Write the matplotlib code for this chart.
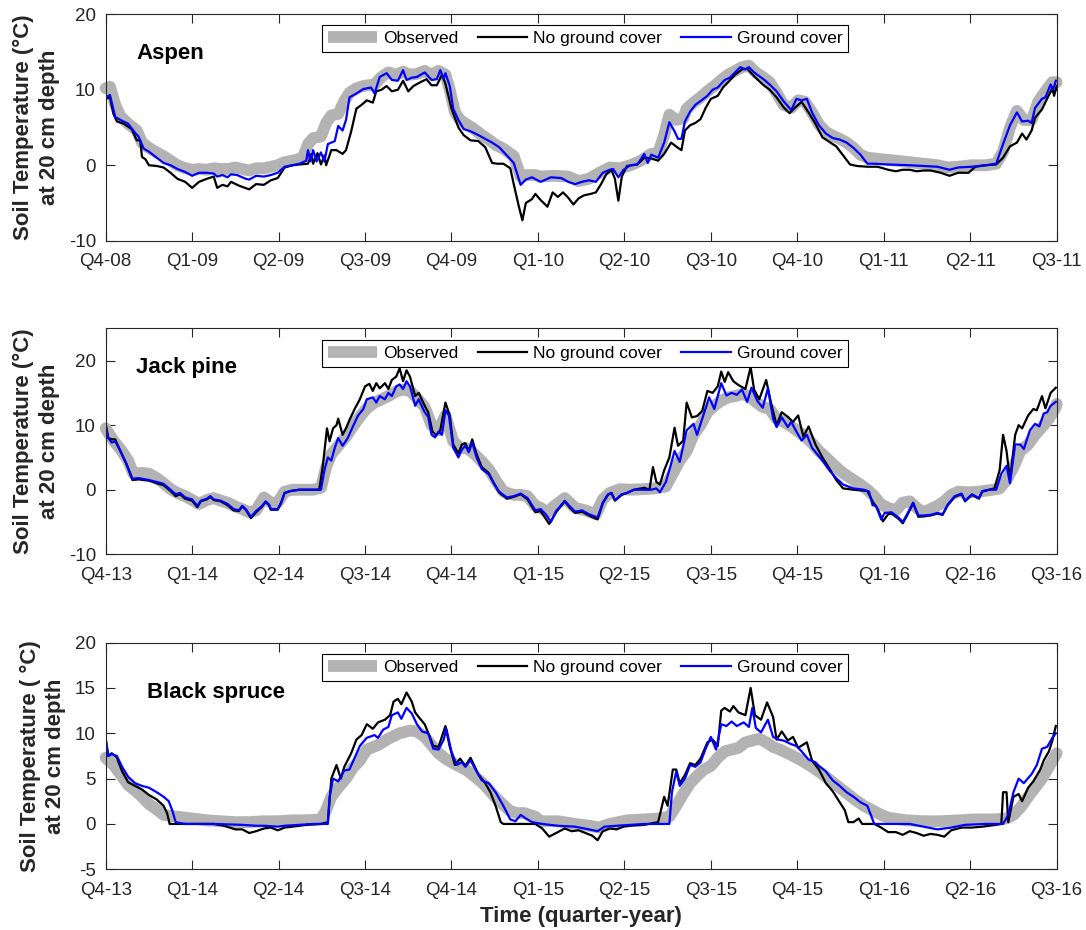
import numpy as np
import matplotlib
matplotlib.use("Agg")
import matplotlib.pyplot as plt

plt.rcParams["font.family"] = ["Liberation Sans", "DejaVu Sans"]
plt.rcParams["axes.unicode_minus"] = False

# time axis is in quarters since the first tick of each period
aspen_ticks = ["Q4-08", "Q1-09", "Q2-09", "Q3-09", "Q4-09", "Q1-10",
               "Q2-10", "Q3-10", "Q4-10", "Q1-11", "Q2-11", "Q3-11"]
boreal_ticks = ["Q4-13", "Q1-14", "Q2-14", "Q3-14", "Q4-14", "Q1-15",
                "Q2-15", "Q3-15", "Q4-15", "Q1-16", "Q2-16", "Q3-16"]

# ---- Aspen (soil temperature, degC) ----
aspen_obs = [
    (0, 10.2), (0.05, 10.4), (0.11, 8.0), (0.17, 6.5), (0.26, 5.5), (0.36, 4.6), (0.42, 3.0),
    (0.50, 2.3), (0.59, 1.7), (0.67, 1.2), (0.75, 0.6), (0.83, 0.0), (0.92, -0.4), (1.00, -0.6),
    (1.08, -0.5), (1.17, -0.6), (1.25, -0.4), (1.33, -0.5), (1.41, -0.5), (1.50, -0.3), (1.58, -0.5),
    (1.66, -0.7), (1.74, -0.4), (1.83, -0.4), (1.91, -0.2), (1.99, 0.0), (2.07, 0.4), (2.20, 0.7),
    (2.28, 1.0), (2.34, 2.8), (2.40, 3.6), (2.49, 3.8), (2.55, 5.6), (2.61, 6.6), (2.69, 6.8),
    (2.76, 8.5), (2.82, 9.6), (2.90, 10.2), (2.98, 10.5), (3.11, 10.7), (3.19, 11.7), (3.27, 12.3),
    (3.36, 12.0), (3.44, 12.4), (3.52, 12.0), (3.60, 12.1), (3.69, 12.5), (3.77, 12.0), (3.85, 12.5),
    (3.93, 12.0), (3.98, 10.0), (4.04, 7.0), (4.10, 6.0), (4.18, 5.4), (4.26, 4.8), (4.35, 4.0),
    (4.43, 3.4), (4.51, 2.7), (4.60, 2.2), (4.72, 1.2), (4.80, -1.5), (4.88, -1.3), (4.97, -1.3),
    (5.03, -1.5), (5.19, -1.4), (5.35, -1.5), (5.47, -2.1), (5.59, -1.8), (5.71, -1.0), (5.83, -0.3),
    (5.95, -0.4), (6.07, 0), (6.19, 0.6), (6.31, 1.5), (6.39, 1.6), (6.46, 4.0), (6.52, 6.7),
    (6.60, 6.0), (6.68, 6.2), (6.72, 7.5), (6.80, 8.3), (6.88, 9.0), (6.96, 9.8), (7.04, 10.5),
    (7.12, 11.3), (7.20, 12.0), (7.28, 12.5), (7.36, 13.0), (7.44, 13.2), (7.52, 12.3), (7.60, 11.7),
    (7.68, 11.0), (7.76, 9.6), (7.84, 8.0), (7.93, 7.6), (8.01, 8.6), (8.09, 8.4), (8.17, 7.0),
    (8.25, 5.4), (8.33, 4.4), (8.41, 3.9), (8.49, 3.5), (8.57, 3.0), (8.65, 2.3), (8.73, 1.4),
    (8.81, 1.0), (8.97, 0.8), (9.14, 0.6), (9.30, 0.4), (9.46, 0.2), (9.62, 0), (9.74, -0.3),
    (9.86, -0.2), (10.02, 0), (10.18, 0), (10.30, 0.2), (10.38, 1.8), (10.46, 5.0), (10.54, 7.2),
    (10.62, 6.0), (10.71, 6.0), (10.79, 8.5), (10.87, 9.8), (10.95, 11.0), (11.0, 11.0),
]
aspen_nogc = [
    (0, 8.8), (0.05, 9.0), (0.09, 6.8), (0.13, 5.8), (0.21, 5.5), (0.30, 4.8), (0.36, 3.3), (0.40, 3.3),
    (0.42, 1.1), (0.46, 0.8), (0.50, 0), (0.59, -0.1), (0.67, -0.3), (0.75, -1.0), (0.83, -1.8),
    (0.92, -2.2), (1.00, -3.0), (1.08, -2.2), (1.17, -1.8), (1.25, -1.5), (1.29, -3.0), (1.35, -2.6),
    (1.41, -2.8), (1.45, -2.2), (1.54, -2.7), (1.66, -3.2), (1.74, -2.5), (1.83, -2.6), (1.91, -2.0),
    (1.99, -1.7), (2.07, -0.3), (2.16, 0), (2.24, 0.1), (2.34, 0.2), (2.38, 1.5), (2.40, 0.2),
    (2.45, 1.6), (2.49, 0.1), (2.53, 1.3), (2.55, 0.0), (2.61, 2.0), (2.67, 2.0), (2.74, 1.5),
    (2.78, 2.0), (2.84, 4.5), (2.90, 7.5), (2.96, 8.0), (3.02, 8.6), (3.09, 8.3), (3.13, 9.8),
    (3.19, 10.0), (3.25, 10.5), (3.31, 9.8), (3.38, 10.0), (3.44, 11.2), (3.50, 9.8), (3.56, 10.5),
    (3.64, 11.0), (3.71, 11.4), (3.77, 10.6), (3.83, 10.6), (3.89, 12.0), (3.93, 10.8), (4.00, 7.5),
    (4.08, 5.0), (4.14, 4.0), (4.22, 3.3), (4.31, 3.2), (4.39, 2.4), (4.47, 0.3), (4.53, 0.2),
    (4.60, 0.2), (4.68, -0.4), (4.72, -2.5), (4.78, -5.5), (4.82, -7.3), (4.86, -5.0), (4.93, -4.5),
    (4.97, -3.8), (5.03, -4.6), (5.11, -5.5), (5.17, -3.6), (5.23, -4.2), (5.29, -3.6), (5.35, -4.3),
    (5.41, -5.2), (5.47, -4.4), (5.53, -4.0), (5.61, -3.8), (5.67, -3.6), (5.73, -2.5), (5.79, -1.2),
    (5.85, -0.6), (5.89, -1.8), (5.93, -4.7), (5.97, -1.5), (6.03, -0.1), (6.15, 0.1), (6.23, 1.0),
    (6.31, 0.9), (6.39, 0.6), (6.46, 1.5), (6.54, 3.0), (6.62, 2.3), (6.66, 2.0), (6.70, 4.6),
    (6.76, 5.3), (6.82, 5.6), (6.88, 6.1), (6.94, 7.6), (7.00, 8.8), (7.08, 9.2), (7.14, 10.3),
    (7.20, 11.0), (7.28, 12.0), (7.36, 12.7), (7.42, 12.8), (7.50, 11.8), (7.60, 10.7), (7.68, 10.0),
    (7.76, 9.0), (7.84, 7.7), (7.91, 6.9), (7.97, 7.6), (8.05, 8.4), (8.13, 7.0), (8.21, 5.5),
    (8.29, 3.7), (8.37, 3.1), (8.45, 2.5), (8.53, 1.3), (8.61, 0.1), (8.69, -0.1), (8.81, -0.2),
    (8.93, -0.2), (9.05, -0.6), (9.14, -0.8), (9.22, -0.6), (9.30, -0.6), (9.38, -0.8), (9.46, -0.7),
    (9.54, -0.7), (9.66, -1.0), (9.76, -1.4), (9.86, -1.0), (9.98, -1.0), (10.06, -0.2), (10.18, 0),
    (10.30, 0.1), (10.38, 1.0), (10.46, 2.5), (10.54, 3.0), (10.60, 4.2), (10.65, 3.4), (10.71, 4.6),
    (10.75, 6.3), (10.83, 7.4), (10.91, 9.3), (10.95, 10.2), (10.97, 9.2), (11.0, 10.5),
]
aspen_gc = [
    (0, 9.0), (0.05, 9.3), (0.11, 6.4), (0.17, 6.0), (0.26, 5.5), (0.34, 4.3), (0.38, 3.8), (0.44, 2.2),
    (0.50, 1.8), (0.59, 1.0), (0.67, 0.3), (0.75, 0.0), (0.83, -0.5), (0.92, -0.9), (1.00, -1.4),
    (1.08, -1.0), (1.17, -1.0), (1.25, -1.1), (1.29, -1.5), (1.35, -1.3), (1.41, -1.6), (1.45, -1.2),
    (1.52, -1.3), (1.62, -1.8), (1.66, -1.9), (1.74, -1.4), (1.83, -1.5), (1.91, -1.3), (1.99, -1.0),
    (2.07, -0.2), (2.16, 0), (2.24, 0.2), (2.32, 0.6), (2.34, 2.0), (2.37, 0.5), (2.40, 2.0),
    (2.44, 0.5), (2.49, 1.7), (2.53, 0.5), (2.57, 2.8), (2.65, 3.2), (2.69, 5.2), (2.74, 4.6),
    (2.78, 6.0), (2.82, 9.0), (2.90, 9.5), (2.98, 10.1), (3.07, 10.3), (3.11, 9.5), (3.17, 11.7),
    (3.25, 12.2), (3.31, 11.3), (3.38, 11.2), (3.44, 12.6), (3.48, 11.3), (3.54, 11.6), (3.60, 11.7),
    (3.69, 12.3), (3.77, 11.3), (3.83, 11.4), (3.87, 12.6), (3.91, 11.5), (3.93, 12.2), (3.98, 10.5),
    (4.02, 7.5), (4.08, 6.0), (4.14, 4.8), (4.22, 4.5), (4.31, 4.0), (4.39, 3.5), (4.47, 3.0),
    (4.55, 2.4), (4.64, 1.3), (4.72, 0.3), (4.80, -2.6), (4.86, -1.9), (4.93, -1.6), (5.03, -2.2),
    (5.15, -1.6), (5.27, -1.7), (5.35, -2.2), (5.43, -2.5), (5.51, -2.2), (5.59, -2.0), (5.67, -2.2),
    (5.75, -1.0), (5.83, -0.6), (5.87, -0.5), (5.93, -1.6), (5.99, -0.6), (6.07, 0), (6.15, 0.1),
    (6.23, 1.5), (6.27, 0.3), (6.31, 1.4), (6.39, 1.0), (6.46, 3.0), (6.52, 5.7), (6.58, 4.5),
    (6.62, 3.5), (6.66, 3.5), (6.70, 5.8), (6.76, 7.1), (6.82, 8.0), (6.88, 8.5), (6.96, 9.2),
    (7.02, 10.0), (7.08, 10.3), (7.16, 11.3), (7.22, 11.6), (7.28, 12.3), (7.34, 13.0), (7.40, 12.7),
    (7.44, 13.0), (7.50, 12.3), (7.56, 11.8), (7.62, 11.3), (7.68, 10.7), (7.76, 9.8), (7.84, 8.5),
    (7.93, 7.3), (7.99, 8.8), (8.05, 8.6), (8.11, 8.8), (8.17, 7.0), (8.25, 5.3), (8.33, 4.2),
    (8.41, 3.6), (8.49, 3.4), (8.57, 3.0), (8.65, 2.3), (8.73, 1.4), (8.81, 0.2), (8.89, 0.2),
    (9.05, 0.1), (9.30, 0), (9.46, -0.1), (9.62, -0.2), (9.76, -0.6), (9.86, -0.3), (10.02, -0.2),
    (10.18, 0), (10.30, 0.2), (10.38, 2.8), (10.46, 5.3), (10.54, 7.0), (10.60, 5.8), (10.67, 5.9),
    (10.71, 5.6), (10.75, 7.6), (10.83, 8.8), (10.87, 9.0), (10.93, 10.7), (10.96, 10.0), (10.99, 11.2),
]

# ---- Jack pine ----
pine_obs = [
    (0, 9.5), (0.09, 7.6), (0.17, 6.3), (0.26, 4.5), (0.32, 2.5), (0.42, 2.6), (0.50, 2.5), (0.59, 1.8),
    (0.67, 1.0), (0.75, 0.1), (0.83, -0.5), (0.92, -1.0), (1.00, -1.6), (1.08, -2.2), (1.17, -1.6),
    (1.25, -1.3), (1.33, -1.7), (1.41, -2.0), (1.50, -2.6), (1.58, -3.0), (1.66, -3.5), (1.74, -3.2),
    (1.83, -1.2), (1.91, -2.0), (1.99, -2.0), (2.07, -0.3), (2.16, 0), (2.40, 0), (2.49, 0.3),
    (2.55, 3.5), (2.61, 5.5), (2.69, 6.8), (2.78, 8.2), (2.86, 9.8), (2.94, 11.3), (3.02, 12.6),
    (3.11, 13.5), (3.19, 14.0), (3.27, 14.5), (3.36, 15.2), (3.44, 15.5), (3.52, 15.3), (3.60, 14.2),
    (3.69, 12.8), (3.77, 10.0), (3.85, 9.2), (3.93, 11.5), (4.02, 7.5), (4.10, 6.5), (4.18, 6.4),
    (4.26, 5.6), (4.35, 4.4), (4.43, 3.2), (4.51, 1.5), (4.60, -0.3), (4.72, -0.8), (4.80, -0.8),
    (4.88, -1.0), (4.97, -2.5), (5.03, -2.8), (5.11, -3.5), (5.19, -2.5), (5.31, -1.3), (5.43, -2.8),
    (5.55, -3.2), (5.67, -3.8), (5.75, -1.5), (5.83, -0.5), (5.95, 0.1), (6.07, 0), (6.23, 0.1),
    (6.35, 0.2), (6.48, 0.5), (6.56, 2.5), (6.64, 4.5), (6.72, 6.0), (6.80, 8.5), (6.88, 10.0),
    (6.96, 12.0), (7.04, 13.0), (7.12, 13.8), (7.20, 14.3), (7.28, 14.5), (7.36, 14.8), (7.44, 14.5),
    (7.52, 13.6), (7.60, 12.8), (7.68, 12.5), (7.76, 11.0), (7.84, 10.5), (7.93, 9.8), (8.01, 9.0),
    (8.09, 8.3), (8.17, 7.2), (8.25, 6.0), (8.33, 5.0), (8.41, 4.0), (8.49, 3.0), (8.57, 2.2),
    (8.65, 1.5), (8.73, 0.8), (8.81, 0.0), (8.89, -1.0), (8.97, -2.3), (9.05, -2.8), (9.14, -3.2),
    (9.22, -2.0), (9.30, -1.8), (9.38, -2.8), (9.46, -3.5), (9.54, -3.0), (9.62, -2.5), (9.70, -1.8),
    (9.78, -0.8), (9.86, -0.3), (9.98, -0.4), (10.10, -0.3), (10.26, 0.0), (10.34, 0.2), (10.42, 1.5),
    (10.50, 3.5), (10.58, 6.0), (10.67, 7.0), (10.75, 8.5), (10.83, 9.7), (10.91, 11.0), (10.99, 12.8),
    (11.0, 13.3),
]
pine_nogc = [
    (0, 10.2), (0.03, 8.0), (0.07, 7.8), (0.11, 7.8), (0.17, 6.0), (0.24, 4.0), (0.31, 1.5), (0.38, 1.6),
    (0.50, 1.4), (0.59, 1.0), (0.67, 0.7), (0.75, -0.2), (0.81, -1.0), (0.86, -0.7), (0.92, -1.4),
    (1.00, -1.7), (1.06, -2.7), (1.10, -1.8), (1.17, -1.5), (1.21, -1.1), (1.25, -1.6), (1.33, -1.8),
    (1.41, -2.4), (1.48, -3.2), (1.54, -3.3), (1.58, -2.6), (1.62, -3.1), (1.68, -4.4), (1.74, -3.5),
    (1.81, -2.6), (1.85, -1.9), (1.89, -2.4), (1.91, -3.1), (1.99, -3.1), (2.03, -2.0), (2.07, -0.5),
    (2.14, -0.2), (2.24, 0), (2.40, 0), (2.47, 0), (2.51, 3.5), (2.56, 9.5), (2.59, 7.5), (2.63, 9.5),
    (2.67, 10.0), (2.69, 11.0), (2.74, 8.5), (2.78, 9.5), (2.82, 10.8), (2.88, 12.5), (2.94, 14.0),
    (3.00, 16.0), (3.05, 16.4), (3.09, 15.3), (3.13, 16.5), (3.17, 15.7), (3.23, 16.5), (3.27, 15.6),
    (3.31, 17.0), (3.36, 17.5), (3.40, 18.8), (3.44, 16.8), (3.48, 18.5), (3.52, 17.5), (3.58, 14.5),
    (3.62, 15.0), (3.69, 13.0), (3.73, 12.0), (3.78, 9.0), (3.82, 8.4), (3.87, 9.2), (3.93, 13.5),
    (3.98, 11.5), (4.02, 7.0), (4.08, 5.6), (4.12, 7.0), (4.16, 7.2), (4.20, 6.0), (4.24, 7.8),
    (4.29, 5.5), (4.35, 3.5), (4.43, 2.6), (4.49, 1.0), (4.55, -0.4), (4.64, -1.4), (4.72, -1.1),
    (4.80, -0.7), (4.88, -1.5), (4.97, -3.5), (5.03, -3.3), (5.13, -5.3), (5.21, -3.5), (5.25, -2.8),
    (5.31, -1.8), (5.37, -2.8), (5.43, -3.6), (5.51, -3.4), (5.59, -4.0), (5.69, -4.6), (5.75, -2.1),
    (5.81, -0.8), (5.85, -0.5), (5.89, -1.7), (5.97, -0.8), (6.03, -0.5), (6.11, 0), (6.23, 0.3),
    (6.29, 0), (6.33, 3.5), (6.37, 1.2), (6.41, 0.8), (6.46, 3.0), (6.52, 5.0), (6.58, 9.6),
    (6.62, 6.8), (6.68, 7.6), (6.72, 13.5), (6.78, 11.2), (6.84, 11.4), (6.90, 12.2), (6.96, 15.3),
    (7.02, 15.0), (7.08, 16.0), (7.12, 18.3), (7.16, 16.7), (7.20, 18.2), (7.26, 16.8), (7.32, 16.2),
    (7.40, 15.6), (7.46, 19.0), (7.50, 15.5), (7.56, 14.0), (7.64, 17.0), (7.70, 13.2), (7.76, 10.0),
    (7.82, 12.0), (7.89, 11.3), (7.95, 10.5), (8.01, 11.5), (8.07, 8.2), (8.13, 9.8), (8.21, 7.0),
    (8.29, 5.0), (8.37, 3.3), (8.45, 1.5), (8.53, 0.2), (8.65, 0), (8.81, -0.2), (8.87, -1.8),
    (8.93, -3.0), (8.99, -4.9), (9.05, -3.8), (9.09, -3.7), (9.17, -4.5), (9.22, -5.2), (9.27, -4.0),
    (9.34, -2.1), (9.40, -4.2), (9.46, -4.1), (9.54, -4.0), (9.62, -3.7), (9.68, -3.9), (9.74, -2.4),
    (9.82, -1.1), (9.90, -0.7), (9.94, -1.8), (10.02, -0.8), (10.10, -1.4), (10.14, -0.3), (10.22, 0),
    (10.28, 0.2), (10.34, 3.0), (10.38, 8.5), (10.42, 6.0), (10.46, 1.5), (10.52, 8.5), (10.56, 10.0),
    (10.60, 9.5), (10.67, 11.5), (10.73, 12.5), (10.77, 12.3), (10.83, 14.5), (10.87, 12.6),
    (10.93, 15.0), (10.99, 15.8),
]
pine_gc = [
    (0, 9.8), (0.03, 8.0), (0.07, 7.3), (0.11, 7.5), (0.17, 6.0), (0.24, 4.0), (0.31, 1.7), (0.38, 1.8),
    (0.50, 1.5), (0.59, 1.2), (0.67, 0.9), (0.75, 0.0), (0.81, -0.7), (0.86, -0.5), (0.92, -1.2),
    (1.00, -1.5), (1.06, -2.5), (1.10, -1.7), (1.17, -1.4), (1.21, -1.0), (1.25, -1.5), (1.33, -1.7),
    (1.41, -2.2), (1.48, -3.0), (1.54, -3.2), (1.58, -2.5), (1.62, -3.0), (1.68, -4.2), (1.74, -3.3),
    (1.81, -2.5), (1.85, -1.8), (1.89, -2.3), (1.91, -3.0), (1.99, -3.0), (2.03, -2.0), (2.07, -0.5),
    (2.14, -0.2), (2.24, 0), (2.40, 0), (2.49, 0), (2.53, 3.0), (2.57, 5.0), (2.61, 4.5), (2.65, 6.5),
    (2.69, 8.0), (2.74, 6.8), (2.80, 8.0), (2.86, 9.8), (2.92, 11.5), (2.98, 12.5), (3.02, 14.0),
    (3.09, 14.3), (3.13, 13.5), (3.17, 14.5), (3.23, 14.0), (3.27, 15.0), (3.31, 14.5), (3.36, 16.0),
    (3.40, 16.3), (3.44, 15.6), (3.48, 16.8), (3.52, 16.0), (3.58, 13.0), (3.62, 14.0), (3.69, 12.0),
    (3.73, 11.3), (3.77, 8.5), (3.81, 8.1), (3.85, 9.0), (3.89, 8.5), (3.93, 12.3), (3.97, 11.5),
    (4.02, 6.5), (4.08, 5.0), (4.12, 6.2), (4.16, 6.8), (4.20, 5.8), (4.24, 7.3), (4.29, 5.0),
    (4.35, 3.2), (4.43, 2.4), (4.49, 1.0), (4.55, -0.3), (4.64, -1.2), (4.72, -1.0), (4.80, -0.6),
    (4.88, -1.3), (4.97, -3.2), (5.03, -3.0), (5.09, -3.8), (5.15, -5.0), (5.21, -3.3), (5.25, -2.7),
    (5.31, -1.7), (5.37, -2.6), (5.43, -3.4), (5.51, -3.2), (5.59, -3.8), (5.69, -4.3), (5.75, -2.0),
    (5.81, -0.7), (5.85, -0.5), (5.89, -1.6), (5.97, -0.7), (6.03, -0.5), (6.11, 0), (6.23, 0),
    (6.31, 0), (6.37, 0.2), (6.41, -0.4), (6.48, 1.2), (6.54, 4.0), (6.58, 6.0), (6.64, 4.3),
    (6.72, 9.2), (6.80, 10.2), (6.84, 8.5), (6.90, 11.0), (6.98, 14.3), (7.04, 12.5), (7.12, 16.5),
    (7.18, 14.6), (7.24, 15.0), (7.30, 14.7), (7.36, 15.5), (7.42, 13.6), (7.47, 15.8), (7.54, 13.7),
    (7.60, 12.7), (7.66, 15.7), (7.72, 11.0), (7.76, 9.7), (7.82, 11.2), (7.89, 9.7), (7.93, 10.5),
    (7.99, 9.0), (8.05, 7.6), (8.11, 8.5), (8.17, 6.5), (8.23, 5.5), (8.29, 4.5), (8.37, 3.0),
    (8.45, 1.8), (8.53, 0.8), (8.65, 0.2), (8.77, 0), (8.83, -0.3), (8.87, -2.4), (8.91, -2.5),
    (8.97, -4.6), (9.01, -3.6), (9.09, -3.5), (9.17, -4.3), (9.22, -5.0), (9.27, -3.8), (9.34, -2.0),
    (9.40, -4.0), (9.46, -4.0), (9.54, -3.9), (9.62, -3.6), (9.68, -3.8), (9.74, -2.3), (9.82, -1.0),
    (9.90, -0.6), (9.94, -1.7), (10.02, -0.7), (10.10, -1.3), (10.14, -0.2), (10.22, 0), (10.30, 0),
    (10.36, 2.5), (10.42, 3.7), (10.46, 1.0), (10.52, 7.0), (10.58, 7.0), (10.62, 6.3), (10.69, 9.2),
    (10.75, 10.2), (10.80, 9.8), (10.85, 11.8), (10.89, 12.0), (10.93, 13.0), (10.99, 13.6),
]

# ---- Black spruce ----
spruce_obs = [
    (0, 7.3), (0.09, 6.5), (0.17, 5.5), (0.26, 4.3), (0.34, 3.7), (0.42, 3.0), (0.50, 2.2), (0.59, 1.6),
    (0.67, 1.0), (0.75, 0.9), (0.83, 0.8), (1.00, 0.6), (1.17, 0.4), (1.33, 0.3), (1.50, 0.2),
    (1.66, 0.2), (1.83, 0.3), (1.99, 0.3), (2.16, 0.4), (2.32, 0.4), (2.49, 0.5), (2.55, 1.5),
    (2.61, 3.0), (2.69, 4.0), (2.78, 5.0), (2.86, 6.2), (2.94, 7.0), (3.02, 8.2), (3.15, 8.7),
    (3.27, 9.4), (3.40, 10.0), (3.52, 10.3), (3.60, 10.2), (3.69, 9.6), (3.77, 8.7), (3.85, 7.8),
    (3.93, 7.2), (4.02, 6.7), (4.10, 6.3), (4.18, 5.9), (4.26, 5.3), (4.35, 4.6), (4.43, 3.8),
    (4.51, 2.9), (4.60, 2.1), (4.68, 1.4), (4.76, 1.2), (4.84, 1.2), (4.97, 0.8), (5.03, 0.3),
    (5.23, 0.3), (5.43, 0), (5.59, -0.2), (5.71, -0.4), (5.83, 0), (6.03, 0.4), (6.23, 0.5),
    (6.39, 0.6), (6.52, 0.8), (6.60, 2.0), (6.68, 3.3), (6.76, 4.5), (6.84, 5.3), (6.92, 6.0),
    (7.00, 6.4), (7.08, 7.3), (7.16, 8.0), (7.24, 8.2), (7.32, 8.4), (7.40, 9.0), (7.48, 9.2),
    (7.56, 9.4), (7.64, 9.0), (7.72, 8.5), (7.80, 8.2), (7.93, 7.6), (8.05, 7.0), (8.17, 6.3),
    (8.29, 5.5), (8.41, 4.6), (8.53, 3.7), (8.65, 2.8), (8.77, 2.0), (8.89, 1.4), (8.97, 1.0),
    (9.05, 0.7), (9.26, 0.4), (9.46, 0.3), (9.66, 0.3), (9.86, 0.4), (10.06, 0.5), (10.26, 0.5),
    (10.42, 0.6), (10.50, 1.0), (10.58, 1.8), (10.67, 3.0), (10.75, 4.0), (10.83, 5.0), (10.91, 6.3),
    (10.97, 7.3), (11.0, 7.8),
]
spruce_nogc = [
    (0, 9.4), (0.03, 7.5), (0.07, 7.8), (0.13, 7.3), (0.19, 5.8), (0.26, 4.6), (0.34, 4.2), (0.42, 3.8),
    (0.50, 3.2), (0.59, 2.7), (0.67, 2.0), (0.71, 1.2), (0.74, 0), (0.92, 0), (1.25, 0), (1.37, -0.2),
    (1.50, -0.6), (1.58, -0.6), (1.66, -1.0), (1.74, -0.8), (1.83, -0.5), (1.91, -0.4), (1.99, -0.7),
    (2.07, -0.4), (2.16, -0.3), (2.32, -0.1), (2.49, 0), (2.57, 0.2), (2.61, 5.0), (2.67, 6.5),
    (2.72, 5.0), (2.76, 6.3), (2.84, 7.8), (2.90, 9.3), (2.96, 9.8), (3.02, 11.0), (3.09, 10.5),
    (3.15, 11.2), (3.23, 11.5), (3.29, 12.0), (3.33, 13.5), (3.38, 13.8), (3.42, 13.2), (3.48, 14.5),
    (3.54, 13.5), (3.58, 12.3), (3.62, 11.8), (3.69, 11.0), (3.75, 9.6), (3.79, 8.6), (3.85, 8.5),
    (3.93, 10.8), (3.98, 8.5), (4.04, 6.5), (4.10, 7.2), (4.16, 6.4), (4.22, 7.3), (4.31, 5.5),
    (4.39, 4.5), (4.45, 3.5), (4.51, 2.0), (4.57, 0.2), (4.60, 0), (4.97, 0), (5.05, -0.5),
    (5.13, -1.4), (5.21, -1.0), (5.31, -0.5), (5.39, -0.8), (5.47, -0.7), (5.55, -1.0), (5.63, -1.3),
    (5.69, -1.8), (5.75, -0.8), (5.83, -0.5), (5.91, -0.6), (5.99, -0.3), (6.07, -0.2), (6.23, -0.1),
    (6.39, 0.2), (6.46, 3.0), (6.50, 2.0), (6.56, 6.0), (6.60, 6.0), (6.64, 4.5), (6.70, 5.4),
    (6.76, 6.7), (6.82, 6.5), (6.88, 7.2), (6.96, 9.0), (7.02, 9.3), (7.08, 8.6), (7.12, 12.5),
    (7.16, 12.8), (7.22, 12.4), (7.26, 13.0), (7.32, 12.3), (7.40, 12.0), (7.46, 15.0), (7.51, 12.0),
    (7.58, 11.5), (7.65, 13.4), (7.72, 11.8), (7.76, 9.3), (7.82, 10.2), (7.89, 9.2), (7.95, 9.6),
    (8.01, 8.4), (8.11, 9.0), (8.17, 7.0), (8.25, 6.0), (8.33, 4.5), (8.41, 3.6), (8.49, 2.4),
    (8.55, 1.5), (8.59, 0.2), (8.65, 0.2), (8.71, 0.6), (8.75, 0), (8.89, 0), (8.97, -0.4),
    (9.05, -0.9), (9.14, -0.9), (9.22, -1.2), (9.30, -0.8), (9.38, -1.0), (9.46, -1.3), (9.54, -1.1),
    (9.62, -1.2), (9.70, -1.4), (9.78, -0.7), (9.90, -0.4), (10.02, -0.4), (10.14, -0.3), (10.30, -0.1),
    (10.36, 0), (10.38, 3.5), (10.42, 3.5), (10.44, 0.2), (10.50, 3.0), (10.56, 3.3), (10.60, 2.5),
    (10.67, 4.0), (10.73, 4.7), (10.81, 6.0), (10.85, 7.0), (10.91, 8.0), (10.95, 9.2), (10.99, 10.8),
]
spruce_gc = [
    (0, 9.4), (0.03, 7.5), (0.07, 7.7), (0.13, 7.5), (0.19, 6.3), (0.26, 5.2), (0.34, 4.5), (0.42, 4.2),
    (0.50, 4.0), (0.59, 3.5), (0.67, 3.0), (0.73, 2.5), (0.77, 1.5), (0.81, 0.2), (0.86, 0.1),
    (0.92, 0), (1.25, 0), (1.58, -0.1), (1.74, -0.2), (1.83, -0.2), (1.99, -0.3), (2.07, -0.2),
    (2.24, -0.1), (2.40, 0), (2.57, 0), (2.59, 3.0), (2.63, 5.0), (2.69, 4.7), (2.76, 5.9),
    (2.82, 6.0), (2.88, 7.3), (2.94, 8.6), (3.02, 9.5), (3.11, 9.8), (3.15, 9.5), (3.21, 10.4),
    (3.27, 10.7), (3.31, 12.0), (3.38, 12.3), (3.42, 11.6), (3.48, 12.8), (3.54, 12.2), (3.60, 11.0),
    (3.66, 10.2), (3.73, 10.0), (3.79, 8.3), (3.85, 8.2), (3.91, 9.3), (3.94, 10.5), (4.00, 8.0),
    (4.06, 6.5), (4.12, 6.8), (4.16, 6.3), (4.22, 7.0), (4.29, 5.8), (4.35, 4.8), (4.43, 4.5),
    (4.51, 3.5), (4.60, 2.0), (4.68, 0.5), (4.74, 0.3), (4.80, 1.0), (4.86, 0.6), (4.93, 0.2),
    (5.05, 0), (5.23, -0.2), (5.43, -0.3), (5.59, -0.6), (5.69, -0.8), (5.77, -0.3), (5.91, -0.2),
    (6.07, -0.1), (6.23, 0), (6.52, 0), (6.55, 3.5), (6.60, 5.8), (6.64, 4.2), (6.70, 5.0),
    (6.76, 6.5), (6.82, 6.3), (6.88, 6.8), (6.94, 8.3), (7.00, 9.6), (7.06, 8.2), (7.12, 11.0),
    (7.18, 10.8), (7.24, 11.3), (7.30, 10.8), (7.38, 11.2), (7.44, 10.7), (7.48, 12.8), (7.52, 10.6),
    (7.58, 10.1), (7.66, 11.5), (7.72, 9.6), (7.78, 9.3), (7.84, 9.2), (7.93, 8.8), (7.99, 8.6),
    (8.05, 8.0), (8.13, 7.1), (8.21, 6.8), (8.25, 6.4), (8.33, 5.8), (8.41, 4.8), (8.49, 4.2),
    (8.57, 3.5), (8.65, 3.0), (8.73, 2.4), (8.81, 2.0), (8.87, 0.5), (8.89, 0), (9.05, 0), (9.30, 0),
    (9.46, -0.3), (9.62, -0.6), (9.78, -0.4), (9.94, -0.1), (10.18, 0), (10.38, 0), (10.44, 1.0),
    (10.50, 3.5), (10.56, 5.0), (10.62, 4.5), (10.71, 5.5), (10.77, 6.5), (10.83, 8.3), (10.89, 8.5),
    (10.95, 9.5), (10.99, 10.0),
]

panels = [
    dict(name="Aspen", obs=aspen_obs, nogc=aspen_nogc, gc=aspen_gc, ticks=aspen_ticks,
         ylim=(-10, 20), yticks=[-10, 0, 10, 20], unit="(°C)",
         rect=[0.0973, 0.7412, 0.8757, 0.2434], name_xy=(0.032, 0.826), leg_y=0.953, ylab_x=-0.0731),
    dict(name="Jack pine", obs=pine_obs, nogc=pine_nogc, gc=pine_gc, ticks=boreal_ticks,
         ylim=(-10, 25), yticks=[-10, 0, 10, 20], unit="(°C)",
         rect=[0.0973, 0.4040, 0.8757, 0.2430], name_xy=(0.032, 0.827), leg_y=0.948, ylab_x=-0.0731),
    dict(name="Black spruce", obs=spruce_obs, nogc=spruce_nogc, gc=spruce_gc, ticks=boreal_ticks,
         ylim=(-5, 20), yticks=[-5, 0, 5, 10, 15, 20], unit="( °C)",
         rect=[0.0973, 0.0653, 0.8757, 0.2437], name_xy=(0.0435, 0.781), leg_y=0.950, ylab_x=-0.066),
]

axis_col = "#262626"
fig = plt.figure(figsize=(10.86, 9.3), dpi=100)

for p in panels:
    ax = fig.add_axes(p["rect"])
    t_obs, v_obs = np.array(p["obs"]).T
    t_no, v_no = np.array(p["nogc"]).T
    t_gc, v_gc = np.array(p["gc"]).T

    ax.plot(t_obs, v_obs, color="#b3b3b3", lw=8.5, solid_capstyle="round",
            solid_joinstyle="round", clip_on=False, label="Observed")
    ax.plot(t_no, v_no, color="black", lw=1.6, label="No ground cover")
    ax.plot(t_gc, v_gc, color="#0000ff", lw=1.6, label="Ground cover")

    ax.set_xlim(0, 11)
    ax.set_ylim(*p["ylim"])
    ax.set_xticks(range(12))
    ax.set_xticklabels(p["ticks"])
    ax.set_yticks(p["yticks"])
    ax.tick_params(direction="in", top=True, right=True, length=6.5, width=0.8,
                   color=axis_col, labelsize=13.5, labelcolor="#262626")
    ax.tick_params(axis="y", pad=7)
    ax.tick_params(axis="x", pad=9)
    for s in ax.spines.values():
        s.set_color(axis_col)
        s.set_linewidth(0.8)
        s.set_zorder(3)

    ax.text(p["name_xy"][0], p["name_xy"][1], p["name"], transform=ax.transAxes,
            fontsize=16, fontweight="bold", ha="left", va="center")
    ax.text(p["ylab_x"], 0.5, "Soil Temperature " + p["unit"] + "\nat 20 cm depth",
            transform=ax.transAxes, rotation=90, fontsize=16, fontweight="bold",
            ha="center", va="center", multialignment="center", linespacing=1.3,
            color="#262626")

    leg = ax.legend(loc="upper center", bbox_to_anchor=(0.504, p["leg_y"]), ncol=3,
                    fontsize=12.5, frameon=True, fancybox=False, framealpha=1,
                    edgecolor="black", borderaxespad=0, handlelength=2.85,
                    handletextpad=0.35, columnspacing=1.1, borderpad=0.35)
    leg.get_frame().set_linewidth(0.8)
    leg.legend_handles[0].set_solid_capstyle("butt")

fig.text(0.535, 0.0143, "Time (quarter-year)", fontsize=16, fontweight="bold",
         ha="center", va="center", color="#262626")

fig.savefig("out.png", dpi=100)
